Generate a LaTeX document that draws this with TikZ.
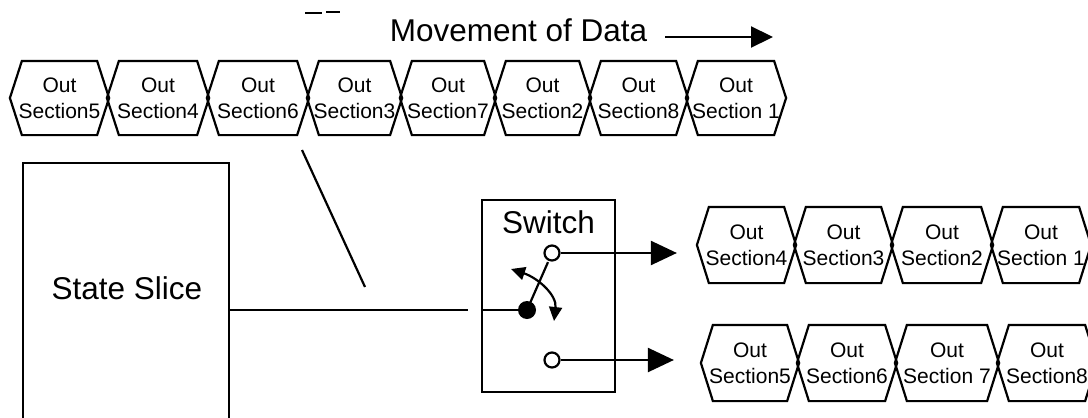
\documentclass[tikz,border=0pt]{standalone}
\usepackage{fontspec}
\setmainfont{Liberation Sans}
\usetikzlibrary{arrows.meta,calc}

\begin{document}
\begin{tikzpicture}[x=1pt,y=-1pt,
  line width=2.2pt,
  sectext/.style={align=center,inner sep=0pt,font=\fontsize{21}{26}\selectfont},
  hexline/.style={draw=black,line width=2.2pt,line join=miter},
  bigtext/.style={inner sep=0pt,font=\fontsize{31.5}{36}\selectfont},
  blockbox/.style={draw=black,line width=2.2pt,inner sep=0pt},
  bigarrow/.style={-{Triangle[length=26pt,width=24pt]}},
  turnarrow/.style={{Triangle[length=14pt,width=13pt]}-{Triangle[length=14pt,width=13pt]}},
  opendot/.style={circle,draw=black,fill=white,line width=2.2pt,inner sep=0pt,minimum size=15pt},
  soliddot/.style={circle,fill=black,inner sep=0pt,minimum size=18pt}]

\useasboundingbox (0,0) rectangle (1088,418);
\clip (0,0) rectangle (1088,418);

% stray pen mark at the top
\draw[line width=2.4pt] (305,13) -- (322,13) (326,12) -- (340,12);

% heading with direction arrow
\node[bigtext,anchor=base] (mov) at (518.5,41) {Movement of Data};
\coordinate (movstart) at (665,37);
\coordinate (movtip) at (773,37);
\draw[-{Triangle[length=22pt,width=21pt]}] (movstart) -- (movtip);

% hexagonal section cells: name / left tip / right tip / centre y / half height / label
\def\sl{12}
\foreach \n/\xl/\xr/\cy/\hh/\lab in {
    t1/11/108/98/36/Section5, t2/108/208/98/36/Section4, t3/208/308/98/36/Section6,
    t4/308/401/98/36/Section3, t5/401/495/98/36/Section7, t6/495/590/98/36/Section2,
    t7/590/687/98/36/Section8, t8/687/785/98/36/Section 1,
    r1/698/795/245/37/Section4, r2/795/892/245/37/Section3,
    r3/892/992/245/37/Section2, r4/992/1090/245/37/Section 1,
    b1/702/798/363/37/Section5, b2/798/896/363/37/Section6,
    b3/896/998/363/37/Section 7, b4/998/1096/363/37/Section8}{
  \node[sectext,minimum width={\xr-\xl},minimum height={2*\hh}] (\n)
     at ({(\xl+\xr)/2},\cy) {Out\\\lab};
  \draw[hexline] (\n.west) -- ($(\n.north west)+(\sl,0)$) -- ($(\n.north east)+(-\sl,0)$)
     -- (\n.east) -- ($(\n.south east)+(-\sl,0)$) -- ($(\n.south west)+(\sl,0)$) -- cycle;
}

% state slice block (runs off the bottom edge)
\node[blockbox,minimum width=206pt,minimum height=277pt] (slice) at (126,301.5) {};
\node[bigtext] (slicetxt) at (127,288) {State Slice};

% slanted pointer line
\coordinate (feedA) at (302,150);
\coordinate (feedB) at (365,287);
\draw (feedA) -- (feedB);

% switch
\node[blockbox,minimum width=133pt,minimum height=192pt] (switch) at (548.5,296) {};
\node[bigtext] (swlabel) at (548.5,222) {Switch};
\node[soliddot] (dot) at (527,310) {};
\coordinate (gapend) at (468,310);
\draw (slice.east |- gapend) -- (gapend);
\draw (switch.west |- dot) -- (dot.center);
\draw (dot.center) -- ($(dot.center)!0.84!(552,253)$);
\node[opendot] (o1) at (552,253) {};
\node[opendot] (o2) at (552,360) {};
\coordinate (swA) at (511,269);
\coordinate (swB) at (554,321);
\draw[turnarrow] (swA) .. controls (538,278) and (557,295) .. (swB);

% switch outputs
\draw[bigarrow,shorten >=20pt] (o1) -- (o1 -| r1.west);
\draw[bigarrow,shorten >=27pt] (o2) -- (o2 -| b1.west);

\end{tikzpicture}
\end{document}
